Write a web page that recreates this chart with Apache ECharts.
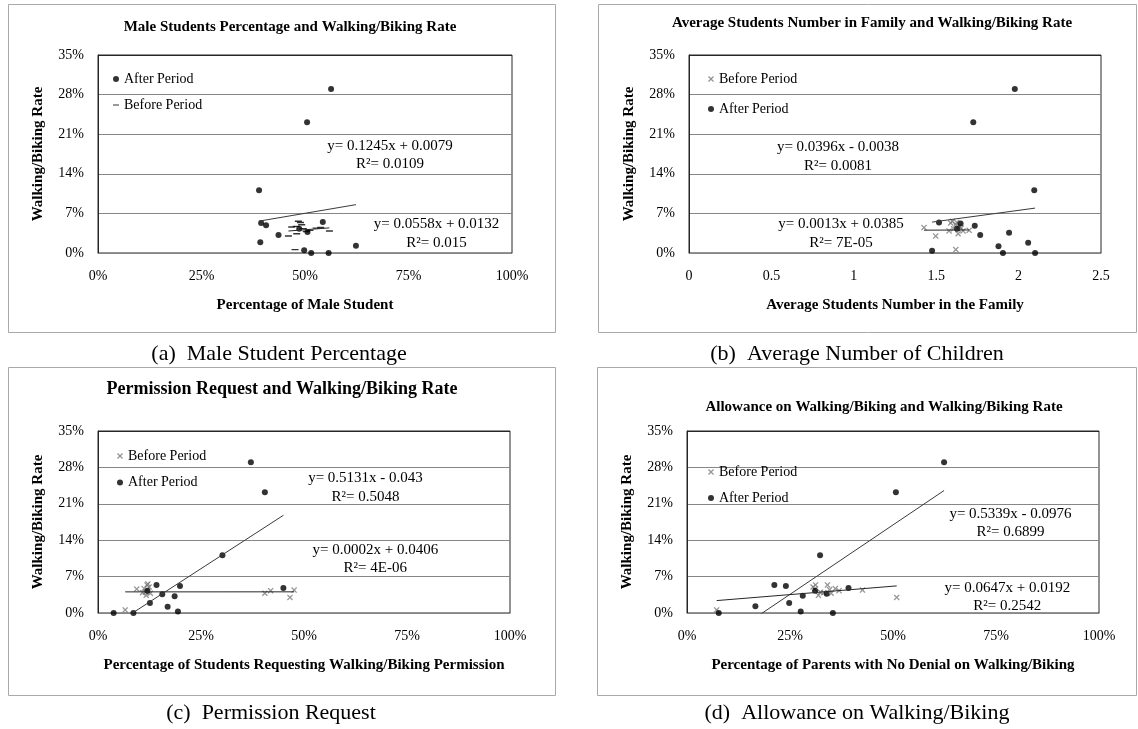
<!DOCTYPE html>
<html>
<head>
<meta charset="utf-8">
<script src="https://cdn.jsdelivr.net/npm/echarts@6/dist/echarts.min.js"></script>
<style>
  html, body { margin: 0; padding: 0; background: #fff; }
  #main { width: 1138px; height: 729px; }
</style>
</head>
<body>
<div id="main"></div>
<script>
// ---- (a) share of male students (%) vs walking/biking rate (%) ----
const maleAfterX  = [56.3, 50.5, 38.9, 39.4, 40.6, 43.6, 39.2, 54.3, 50.6, 49.8, 51.5, 55.7, 62.3, 48.6];
const maleAfterY  = [29.0, 23.1, 11.1, 5.3, 4.9, 3.2, 1.9, 5.5, 3.7, 0.5, 0.0, 0.0, 1.3, 4.3];
const maleBeforeX = [48.4, 46.8, 46.0, 48.0, 52.7, 55.9, 47.6, 49.2, 49.6, 50.3, 48.9, 51.2, 47.9, 53.8];
const maleBeforeY = [5.6, 4.6, 3.0, 3.4, 4.4, 3.9, 0.6, 5.0, 4.3, 3.8, 5.4, 4.0, 4.7, 4.5];

// ---- (b) average number of students per family vs walking/biking rate (%) ----
const kidsAfterX  = [1.977, 1.725, 2.095, 1.517, 1.648, 1.627, 1.734, 1.767, 1.942, 2.058, 1.878, 1.475, 1.905, 2.100];
const kidsAfterY  = [29.0, 23.1, 11.1, 5.4, 5.2, 4.3, 4.8, 3.2, 3.6, 1.8, 1.2, 0.4, 0.0, 0.0];
const kidsBeforeX = [1.426, 1.497, 1.578, 1.588, 1.619, 1.633, 1.663, 1.598, 1.618, 1.640, 1.652, 1.605, 1.700, 1.625];
const kidsBeforeY = [4.5, 3.0, 3.9, 5.3, 0.6, 3.4, 3.9, 5.6, 5.0, 4.7, 4.4, 4.3, 4.0, 5.4];

// ---- (c) students requesting permission (%) vs walking/biking rate (%) ----
const permAfterX  = [37.1, 40.5, 30.2, 14.2, 19.9, 12.0, 45.0, 15.6, 18.6, 12.6, 16.9, 19.4, 3.8, 8.6];
const permAfterY  = [29.0, 23.2, 11.1, 5.4, 5.2, 4.3, 4.8, 3.6, 3.2, 1.9, 1.2, 0.3, 0.0, 0.0];
const permBeforeX = [6.6, 9.4, 11.9, 11.2, 10.8, 11.7, 12.7, 40.5, 41.9, 46.6, 47.6, 12.1, 12.4, 11.5];
const permBeforeY = [0.6, 4.6, 5.4, 4.7, 3.9, 3.4, 3.8, 3.8, 4.3, 3.0, 4.4, 5.6, 5.0, 4.0];

// ---- (d) parents with no denial (%) vs walking/biking rate (%) ----
const allowAfterX  = [62.4, 50.7, 32.3, 21.2, 24.0, 31.1, 39.2, 33.9, 28.1, 24.8, 16.6, 27.6, 7.7, 35.4];
const allowAfterY  = [29.0, 23.2, 11.1, 5.4, 5.2, 4.3, 4.8, 3.7, 3.3, 1.9, 1.3, 0.3, 0.0, 0.0];
const allowBeforeX = [7.2, 31.2, 34.1, 31.0, 31.9, 35.0, 36.0, 36.9, 42.6, 50.9, 32.4, 30.6, 33.2, 34.6];
const allowBeforeY = [0.6, 5.4, 5.4, 4.6, 3.4, 3.8, 4.7, 4.3, 4.4, 3.0, 4.0, 5.0, 3.9, 4.5];

// Linear trend lines (rate as a fraction), in panel order a, b, c, d
const afterSlope      = [0.1245, 0.0396, 0.5131, 0.5339];
const afterIntercept  = [0.0079, -0.0038, -0.043, -0.0976];
const afterR2         = [0.0109, 0.0081, 0.5048, 0.6899];
const beforeSlope     = [0.0558, 0.0013, 0.0002, 0.0647];
const beforeIntercept = [0.0132, 0.0385, 0.0406, 0.0192];
const beforeR2        = [0.015, 0.00007, 0.000004, 0.2542];

// Text
const panelTitles = [
  'Male Students Percentage and Walking/Biking Rate',
  'Average Students Number in Family and Walking/Biking Rate',
  'Permission Request and Walking/Biking Rate',
  'Allowance on Walking/Biking and Walking/Biking Rate'
];
const xAxisNames = [
  'Percentage of Male Student',
  'Average Students Number in the Family',
  'Percentage of Students Requesting Walking/Biking Permission',
  'Percentage of Parents with No Denial on Walking/Biking'
];
const yAxisName = 'Walking/Biking Rate';
const captions = [
  '(a)  Male Student Percentage',
  '(b)  Average Number of Children',
  '(c)  Permission Request',
  '(d)  Allowance on Walking/Biking'
];
const rateTicks = { min: 0, max: 35, step: 7 };
const pctTicks = { min: 0, max: 100, step: 25 };
const kidsTicks = { min: 0, max: 2.5, step: 0.5 };

// ------------------------------------------------------------------
const FONT = '"Liberation Serif", "Times New Roman", serif';
const DOT = 'circle';
const CROSS = 'path://M0,1.5L1.5,0L5,3.5L8.5,0L10,1.5L6.5,5L10,8.5L8.5,10L5,6.5L1.5,10L0,8.5L3.5,5Z';
const DASH = 'path://M0,4L10,4L10,6L0,6Z M0,0L0.01,0L0,0.01Z M10,10L9.99,10L10,9.99Z';

const panels = [
  { ax: maleAfterX, ay: maleAfterY, bx: maleBeforeX, by: maleBeforeY, xUnit: 0.01, ticks: pctTicks, pct: true,
    beforeSymbol: DASH, beforeSize: 7, beforeColor: '#000', afterFirst: true },
  { ax: kidsAfterX, ay: kidsAfterY, bx: kidsBeforeX, by: kidsBeforeY, xUnit: 1, ticks: kidsTicks, pct: false,
    beforeSymbol: CROSS, beforeSize: 6, beforeColor: '#7a7a7a', afterFirst: false },
  { ax: permAfterX, ay: permAfterY, bx: permBeforeX, by: permBeforeY, xUnit: 0.01, ticks: pctTicks, pct: true,
    beforeSymbol: CROSS, beforeSize: 6, beforeColor: '#7a7a7a', afterFirst: false },
  { ax: allowAfterX, ay: allowAfterY, bx: allowBeforeX, by: allowBeforeY, xUnit: 0.01, ticks: pctTicks, pct: true,
    beforeSymbol: CROSS, beforeSize: 6, beforeColor: '#7a7a7a', afterFirst: false }
];

// Layout of each panel
const grids = [
  { left: 98,  top: 55,  width: 414, height: 198 },
  { left: 689, top: 55,  width: 412, height: 198 },
  { left: 98,  top: 431, width: 412, height: 182 },
  { left: 687, top: 431, width: 412, height: 182 }
];
const frames = [
  { x: 8.5,   y: 4.5,   width: 547, height: 328 },
  { x: 598.5, y: 4.5,   width: 538, height: 328 },
  { x: 8.5,   y: 367.5, width: 547, height: 328 },
  { x: 597.5, y: 367.5, width: 539, height: 328 }
];
const titlePos = [
  { x: 290, y: 27, size: 15 }, { x: 872, y: 23, size: 15 },
  { x: 282, y: 389, size: 18 }, { x: 884, y: 407, size: 15 }
];
const legendPos = [
  { left: 113, top: 72, gap: 12 }, { left: 708, top: 72, gap: 16 },
  { left: 117, top: 449, gap: 12.5 }, { left: 708, top: 465, gap: 12 }
];
const afterEqPos  = [{ x: 390, y: 155 }, { x: 838, y: 156.5 }, { x: 365.5, y: 487.5 }, { x: 1010.5, y: 523 }];
const beforeEqPos = [{ x: 436.5, y: 233.7 }, { x: 841, y: 233.7 }, { x: 375.3, y: 559.2 }, { x: 1007.3, y: 597 }];
const captionPos  = [{ x: 279, y: 354 }, { x: 857, y: 354 }, { x: 271, y: 713 }, { x: 857, y: 713 }];

function zip(xs, ys) { return xs.map((x, i) => [x, ys[i]]); }

function fmtR2(v) {
  if (v < 0.001) {
    return v.toExponential(0).toUpperCase().replace(/E([+-])(\d)$/, 'E$10$2');
  }
  return String(v);
}
function eqText(m, b, r2) {
  return 'y= ' + m + 'x ' + (b < 0 ? '- ' : '+ ') + Math.abs(b) + '\nR\u00B2= ' + fmtR2(r2);
}
// Trend line across the x range of its points, y in percent
function trend(xs, m, b, xUnit) {
  const lo = Math.min.apply(null, xs), hi = Math.max.apply(null, xs);
  return [lo, hi].map(x => [x, 100 * (m * x * xUnit + b)]);
}

const option = {
  animation: false,
  backgroundColor: '#fff',
  grid: [], xAxis: [], yAxis: [], series: [], legend: [], graphic: []
};

panels.forEach((p, i) => {
  option.grid.push(Object.assign({ show: true, borderColor: '#262626', borderWidth: 1, backgroundColor: 'transparent' }, grids[i]));

  option.xAxis.push({
    gridIndex: i, type: 'value',
    min: p.ticks.min, max: p.ticks.max, interval: p.ticks.step,
    axisLine: { show: true, lineStyle: { color: '#868686', width: 1 } },
    axisTick: { show: false },
    splitLine: { show: false },
    axisLabel: {
      margin: 16, color: '#000', fontFamily: FONT, fontSize: 14,
      formatter: p.pct ? (v => v + '%') : (v => String(v))
    },
    name: xAxisNames[i], nameLocation: 'middle', nameGap: 45,
    nameTextStyle: { color: '#000', fontFamily: FONT, fontSize: 15, fontWeight: 'bold' }
  });

  option.yAxis.push({
    gridIndex: i, type: 'value',
    min: rateTicks.min, max: rateTicks.max, interval: rateTicks.step,
    axisLine: { show: true, lineStyle: { color: '#262626', width: 1 } },
    axisTick: { show: false },
    splitLine: { show: true, lineStyle: { width: 1,
      color: ['#868686', '#868686', '#868686', '#868686', '#868686', '#262626'] } },
    axisLabel: { margin: 14, color: '#000', fontFamily: FONT, fontSize: 14, formatter: v => v + '%' },
    name: yAxisName, nameLocation: 'middle', nameGap: 52,
    nameTextStyle: { color: '#000', fontFamily: FONT, fontSize: 15, fontWeight: 'bold' }
  });

  option.series.push({
    type: 'scatter', name: 'Before Period', xAxisIndex: i, yAxisIndex: i,
    data: zip(p.bx, p.by), symbol: p.beforeSymbol, symbolSize: p.beforeSize,
    itemStyle: { color: p.beforeColor }, silent: true, z: 3
  });
  option.series.push({
    type: 'scatter', name: 'After Period', xAxisIndex: i, yAxisIndex: i,
    data: zip(p.ax, p.ay), symbol: DOT, symbolSize: 6,
    itemStyle: { color: '#000' }, silent: true, z: 4
  });
  option.series.push({
    type: 'line', name: 'After trend ' + i, xAxisIndex: i, yAxisIndex: i,
    data: trend(p.ax, afterSlope[i], afterIntercept[i], p.xUnit),
    symbol: 'none', clip: true, silent: true, z: 5,
    lineStyle: { color: '#3a3a3a', width: 1 }
  });
  option.series.push({
    type: 'line', name: 'Before trend ' + i, xAxisIndex: i, yAxisIndex: i,
    data: trend(p.bx, beforeSlope[i], beforeIntercept[i], p.xUnit),
    symbol: 'none', clip: true, silent: true, z: 5,
    lineStyle: { color: '#262626', width: 1 }
  });

  const afterItem = { name: 'After Period', icon: DOT, itemStyle: { color: '#000' } };
  const beforeItem = { name: 'Before Period', icon: p.beforeSymbol, itemStyle: { color: p.beforeColor } };
  option.legend.push({
    orient: 'vertical', left: legendPos[i].left, top: legendPos[i].top,
    padding: 0, itemGap: legendPos[i].gap, itemWidth: 6, itemHeight: 6,
    selectedMode: false,
    textStyle: { color: '#000', fontFamily: FONT, fontSize: 14, lineHeight: 14 },
    data: p.afterFirst ? [afterItem, beforeItem] : [beforeItem, afterItem]
  });

  // chart frame
  option.graphic.push({
    type: 'rect', silent: true, z: -10,
    shape: frames[i],
    style: { fill: 'none', stroke: '#a9a9a9', lineWidth: 1 }
  });
  // panel title
  option.graphic.push({
    type: 'text', silent: true,
    style: {
      text: panelTitles[i], x: titlePos[i].x, y: titlePos[i].y,
      align: 'center', verticalAlign: 'middle',
      textAlign: 'center', textVerticalAlign: 'middle',
      font: 'bold ' + titlePos[i].size + 'px ' + FONT, fill: '#000'
    }
  });
  // trend equations
  [[afterEqPos[i], eqText(afterSlope[i], afterIntercept[i], afterR2[i])],
   [beforeEqPos[i], eqText(beforeSlope[i], beforeIntercept[i], beforeR2[i])]].forEach(([pos, txt]) => {
    option.graphic.push({
      type: 'text', silent: true,
      style: {
        text: txt, x: pos.x, y: pos.y,
        align: 'center', verticalAlign: 'middle',
        textAlign: 'center', textVerticalAlign: 'middle',
        font: '15px ' + FONT, lineHeight: 18.6, fill: '#000'
      }
    });
  });
  // caption under the panel
  option.graphic.push({
    type: 'text', silent: true,
    style: {
      text: captions[i], x: captionPos[i].x, y: captionPos[i].y,
      align: 'center', verticalAlign: 'middle',
      textAlign: 'center', textVerticalAlign: 'middle',
      font: '22px ' + FONT, fill: '#000'
    }
  });
});

const chart = echarts.init(document.getElementById('main'), null, { renderer: 'canvas' });
chart.setOption(option);
</script>
</body>
</html>
